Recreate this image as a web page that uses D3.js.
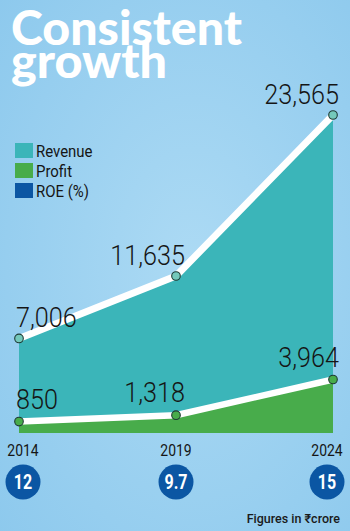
<!DOCTYPE html>
<html><head><meta charset="utf-8">
<script src="https://cdn.jsdelivr.net/npm/d3@7"></script>
<style>
html,body{margin:0;padding:0;background:#9fd3f1;}
svg{display:block;}
</style></head>
<body>
<svg id="chart" width="350" height="531"></svg>
<script>
const years = ["2014", "2019", "2024"];
const revenue = [7006, 11635, 23565];
const profit = [850, 1318, 3964];
const roe = [12, 9.7, 15];
const revenueLabels = ["7,006", "11,635", "23,565"];
const profitLabels = ["850", "1,318", "3,964"];
const roeLabels = ["12", "9.7", "15"];
const legendItems = ["Revenue", "Profit", "ROE (%)"];
const titleLines = ["Consistent", "growth"];
const note = "Figures in \u20B9crore";

const W = 350, H = 531;
const C = {rev: "#3bb5b9", revDot: "#74c9bb", prof: "#48ac4b", roe: "#0b56a3", text: "#151515"};
const svg = d3.select("#chart");

// background
const defs = svg.append("defs");
const rg = defs.append("radialGradient").attr("id", "bg").attr("cx", "0.55").attr("cy", "0.5").attr("r", "0.75");
rg.append("stop").attr("offset", "0").attr("stop-color", "#acdaf4");
rg.append("stop").attr("offset", "1").attr("stop-color", "#8dc9ed");
svg.append("rect").attr("width", W).attr("height", H).attr("fill", "url(#bg)");

const x = d3.scalePoint().domain(years).range([19, 333]);
const y = d3.scaleLinear().domain([0, 23565]).range([433, 115]);

const revData = years.map((yr, i) => ({yr, v: revenue[i], lab: revenueLabels[i]}));
const profData = years.map((yr, i) => ({yr, v: profit[i], lab: profitLabels[i]}));

const area = d3.area().x(d => x(d.yr)).y0(y(0)).y1(d => y(d.v));
const line = d3.line().x(d => x(d.yr)).y(d => y(d.v));

svg.append("path").datum(revData).attr("d", area).attr("fill", C.rev);
svg.append("path").datum(profData).attr("d", area).attr("fill", C.prof);
svg.append("path").datum(revData).attr("d", line).attr("fill", "none").attr("stroke", "#fff").attr("stroke-width", 7);
svg.append("path").datum(profData).attr("d", line).attr("fill", "none").attr("stroke", "#fff").attr("stroke-width", 6.5);

function dots(data, fill) {
  svg.append("g").selectAll("circle").data(data).join("circle")
    .attr("cx", d => x(d.yr)).attr("cy", d => y(d.v)).attr("r", 4.3)
    .attr("fill", fill).attr("stroke", "#1d3a33").attr("stroke-width", 1.1);
}
dots(revData, C.revDot);
dots(profData, C.prof);

function condText(g, px, py, txt, anchor, size, weight, color, sx) {
  g.append("g").attr("transform", `translate(${px},${py}) scale(${sx},1)`)
    .append("text").attr("text-anchor", anchor)
    .attr("font-family", "Roboto, 'DejaVu Sans', sans-serif")
    .attr("font-size", size).attr("font-weight", weight).attr("fill", color)
    .text(txt);
}

function valueLabels(data, dy) {
  const g = svg.append("g");
  data.forEach((d, i) => {
    const n = data.length - 1;
    const anchor = i === 0 ? "start" : "end";
    const dx = i === 0 ? -3 : (i === n ? 6 : 9);
    condText(g, x(d.yr) + dx, y(d.v) + dy, d.lab, anchor, 28, 300, C.text, 0.9);
  });
}
valueLabels(revData, -11);
valueLabels(profData, -13);

// title
const tg = svg.append("g");
titleLines.forEach((t, i) => {
  tg.append("text").attr("x", 11).attr("y", 45 + i * 33)
    .attr("font-family", "Lato, 'Open Sans', sans-serif").attr("font-weight", 900)
    .attr("font-size", 47).attr("fill", "#fff")
    .attr("textLength", i === 0 ? 231 : 156).attr("lengthAdjust", "spacingAndGlyphs")
    .text(t);
});

// legend
const lg = svg.append("g");
const lcol = [C.rev, C.prof, C.roe];
legendItems.forEach((t, i) => {
  lg.append("rect").attr("x", 15).attr("y", 143 + i * 20).attr("width", 18).attr("height", 15).attr("fill", lcol[i]);
  condText(lg, 36, 157 + i * 20, t, "start", 17, 400, C.text, 0.88);
});

// year axis and ROE badges
const r = 17.5;
const bx = yr => Math.max(r + 5.5, Math.min(W - r - 5.5, x(yr)));
const bg = svg.append("g");
years.forEach((yr, i) => {
  condText(bg, bx(yr), 456, yr, "middle", 17, 400, C.text, 0.82);
  bg.append("circle").attr("cx", bx(yr)).attr("cy", 482).attr("r", r).attr("fill", C.roe);
  condText(bg, bx(yr), 489, roeLabels[i], "middle", 20, 700, "#fff", 0.8);
});

svg.append("text").attr("x", 340).attr("y", 523).attr("text-anchor", "end")
  .attr("font-family", "Roboto, 'Noto Sans', sans-serif").attr("font-size", 12.5).attr("font-weight", 500)
  .attr("fill", "#1a1a1a").text(note);
</script>
</body></html>
